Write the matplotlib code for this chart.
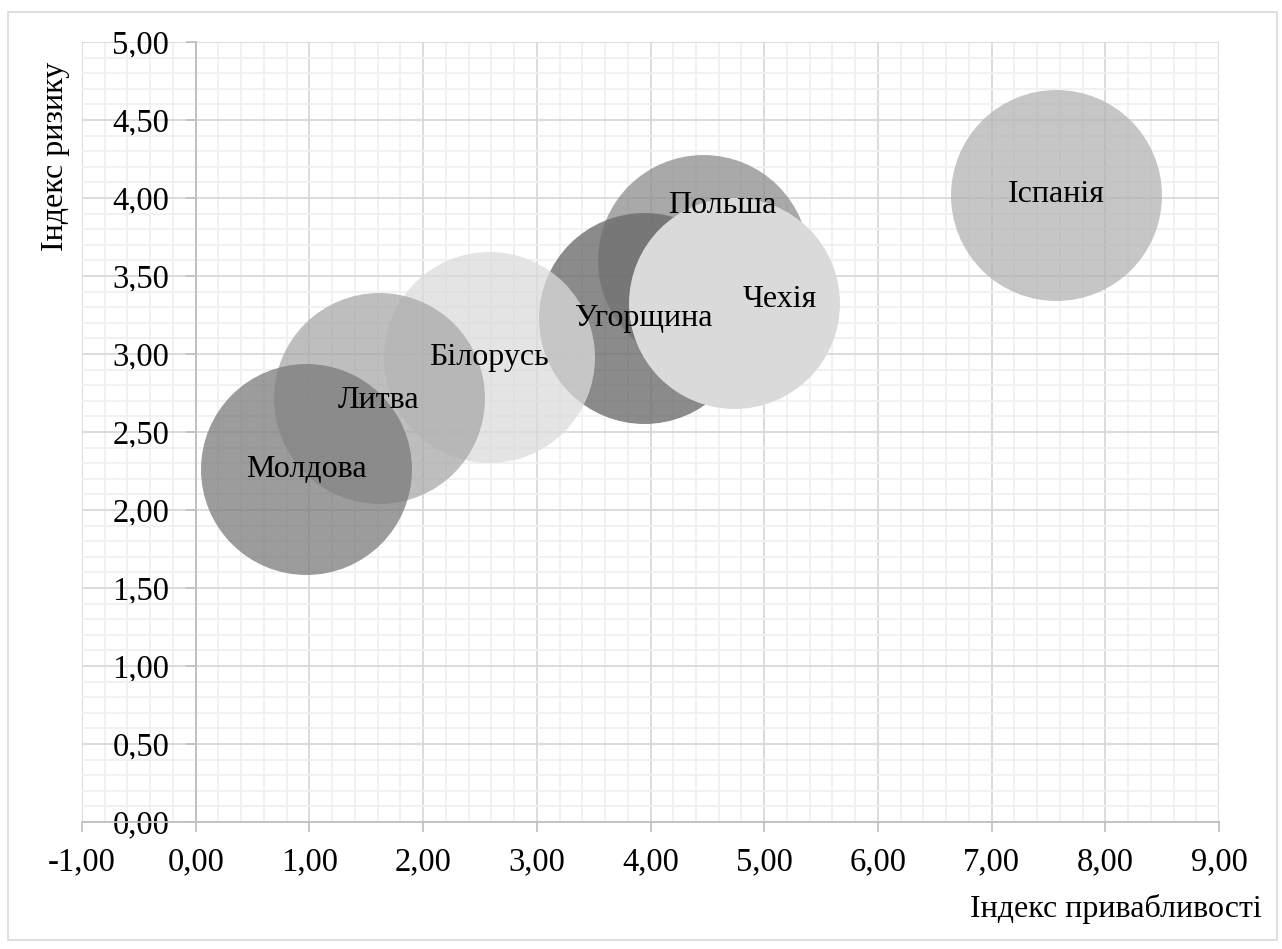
import matplotlib
matplotlib.use("Agg")
import matplotlib.pyplot as plt
from matplotlib.ticker import MultipleLocator, FuncFormatter
from matplotlib.patches import Rectangle

plt.rcParams['font.family'] = ['Liberation Serif', 'DejaVu Serif']

# data, in drawing order (back to front)
countries = ["Польша", "Угорщина", "Білорусь", "Литва", "Молдова", "Чехія", "Іспанія"]
attractiveness = [4.46, 3.94, 2.58, 1.61, 0.97, 4.73, 7.57]
risk = [3.60, 3.23, 2.98, 2.72, 2.26, 3.33, 4.02]
bubble_size = [100, 100, 100, 100, 100, 100, 100]
label_x = [4.63, 3.94, 2.58, 1.61, 0.97, 5.14, 7.57]
label_y = [3.95, 3.23, 2.98, 2.70, 2.26, 3.35, 4.02]

colors = ["#8c8c8c", "#6a6a6a", "#dbdbdb", "#a8a8a8", "#7b7b7b", "#dadada", "#b3b3b3"]
alphas = [0.75, 0.78, 0.75, 0.75, 0.75, 1.0, 0.75]

fig = plt.figure(figsize=(12.82, 9.49), dpi=100)
fig.patches.append(Rectangle((8 / 1282, 9 / 949), 1269 / 1282, 928 / 949,
                             transform=fig.transFigure, fill=False,
                             edgecolor="#d9d9d9", linewidth=1.2))
ax = fig.add_axes([82 / 1282, 1 - 822 / 949, (1219 - 82) / 1282, (822 - 42) / 949])

for i in range(len(countries)):
    ax.scatter(attractiveness[i], risk[i], s=bubble_size[i] * 230.7,
               color=colors[i], alpha=alphas[i], linewidths=0, zorder=3 + i)

for i in range(len(countries)):
    ax.text(label_x[i], label_y[i], countries[i], ha="center", va="center",
            fontsize=23, color="black", zorder=20)

ax.set_xlim(-1, 9)
ax.set_ylim(0, 5)
ax.xaxis.set_major_locator(MultipleLocator(1))
ax.xaxis.set_minor_locator(MultipleLocator(0.2))
ax.yaxis.set_major_locator(MultipleLocator(0.5))
ax.yaxis.set_minor_locator(MultipleLocator(0.1))
fmt = FuncFormatter(lambda v, p: f"{v:.2f}".replace(".", ","))
ax.xaxis.set_major_formatter(fmt)
ax.yaxis.set_major_formatter(fmt)

ax.grid(which="major", color="#d9d9d9", linewidth=1.3)
ax.grid(which="minor", color="#f0f0f0", linewidth=1.3)
ax.set_axisbelow(True)

ax.spines["top"].set_visible(False)
ax.spines["right"].set_visible(False)
ax.spines["left"].set_position(("data", 0))
for sp in ["left", "bottom"]:
    ax.spines[sp].set_color("#bfbfbf")
    ax.spines[sp].set_linewidth(1.3)
    ax.spines[sp].set_zorder(2)

ax.tick_params(which="major", direction="out", length=7, width=1.2,
               color="#bfbfbf", labelsize=23.5, labelcolor="black")
ax.tick_params(axis="x", which="major", pad=11)
ax.tick_params(axis="y", which="major", pad=12)
ax.tick_params(which="minor", length=0)

fig.text(1262 / 1282, 1 - 917 / 949, "Індекс привабливості", ha="right",
         va="baseline", fontsize=23)
fig.text(56 / 1282, 1 - 62 / 949, "Індекс ризику", ha="center", va="top",
         rotation=90, fontsize=23)

fig.savefig("out.png", dpi=100)
